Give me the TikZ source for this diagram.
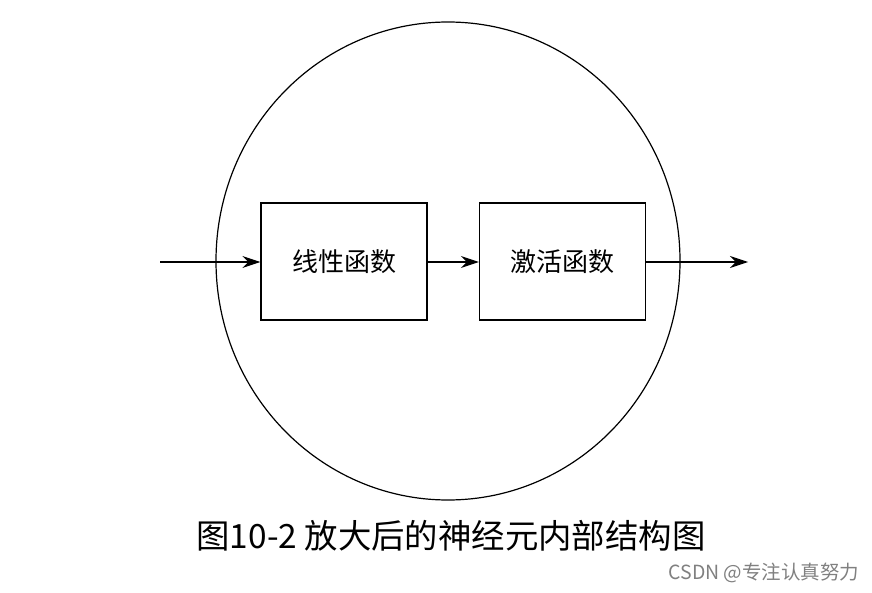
\documentclass[tikz,border=0pt]{standalone}
\usepackage{fontspec}
\newfontfamily\cjk{Noto Sans CJK SC}
\usetikzlibrary{arrows.meta,shapes.geometric}
\begin{document}
\begin{tikzpicture}[x=1pt,y=-1pt,
  box/.style={draw,line width=1.2pt,minimum width=166pt,minimum height=117pt,inner sep=0pt,font=\cjk\fontsize{26}{29}\selectfont},
  arr/.style={line width=1.2pt,-{Stealth[length=18pt,width=12pt]}}]
\useasboundingbox (0,0) rectangle (872,593);
\node[draw,line width=1.2pt,ellipse,minimum width=464pt,minimum height=478pt,inner sep=0pt] (cell) at (448,261) {};
\node[box] (lin) at (344,261.5) {线性函数};
\node[box] (act) at (562.5,261.5) {激活函数};
\coordinate (in) at (160,262);
\coordinate (out) at (748,262);
\draw[arr] (in) -- (lin.west|-in);
\draw[arr] (lin.east|-in) -- (act.west|-in);
\draw[arr] (act.east|-in) -- (out);
\node[font=\cjk\fontsize{33.4}{37}\selectfont] (cap) at (451,536) {图10-2 放大后的神经元内部结构图};
\node[font=\cjk\fontsize{19.5}{22}\selectfont,text=gray] (wm) at (764,573) {CSDN @专注认真努力};
\end{tikzpicture}
\end{document}
